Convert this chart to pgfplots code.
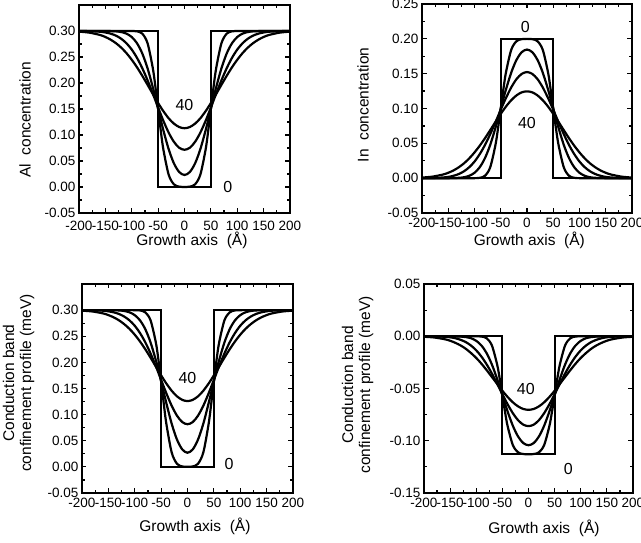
\documentclass[border=0pt]{standalone}
\usepackage{pgfplots}
\usepackage{pgfplotstable}
\pgfplotsset{compat=1.18}
\usepackage{fontspec}
\setmainfont{Liberation Sans}

\pgfplotstableread{
x L10 L20 L30 L40
-200 0.3000 0.3000 0.2999 0.2988
-180 0.3000 0.3000 0.2997 0.2968
-160 0.3000 0.3000 0.2986 0.2923
-150 0.3000 0.2999 0.2972 0.2885
-140 0.3000 0.2998 0.2949 0.2833
-130 0.3000 0.2993 0.2911 0.2766
-120 0.3000 0.2980 0.2851 0.2680
-110 0.3000 0.2949 0.2764 0.2574
-100 0.2999 0.2884 0.2643 0.2447
-90 0.2993 0.2764 0.2483 0.2301
-80 0.2949 0.2567 0.2284 0.2138
-70 0.2764 0.2281 0.2051 0.1965
-60 0.2281 0.1915 0.1794 0.1788
-55 0.1915 0.1711 0.1661 0.1701
-50 0.1500 0.1501 0.1528 0.1615
-45 0.1085 0.1291 0.1397 0.1534
-40 0.0719 0.1088 0.1271 0.1457
-30 0.0236 0.0726 0.1045 0.1321
-20 0.0051 0.0453 0.0868 0.1218
-10 0.0007 0.0287 0.0754 0.1153
0 0.0001 0.0231 0.0716 0.1130
10 0.0007 0.0287 0.0754 0.1153
20 0.0051 0.0453 0.0868 0.1218
30 0.0236 0.0726 0.1045 0.1321
40 0.0719 0.1088 0.1271 0.1457
45 0.1085 0.1291 0.1397 0.1534
50 0.1500 0.1501 0.1528 0.1615
55 0.1915 0.1711 0.1661 0.1701
60 0.2281 0.1915 0.1794 0.1788
70 0.2764 0.2281 0.2051 0.1965
80 0.2949 0.2567 0.2284 0.2138
90 0.2993 0.2764 0.2483 0.2301
100 0.2999 0.2884 0.2643 0.2447
110 0.3000 0.2949 0.2764 0.2574
120 0.3000 0.2980 0.2851 0.2680
130 0.3000 0.2993 0.2911 0.2766
140 0.3000 0.2998 0.2949 0.2833
150 0.3000 0.2999 0.2972 0.2885
160 0.3000 0.3000 0.2986 0.2923
180 0.3000 0.3000 0.2997 0.2968
200 0.3000 0.3000 0.2999 0.2988
}\alTable

\pgfplotstableread{
x L10 L20 L30 L40
-200 0.0000 0.0000 0.0000 0.0008
-180 0.0000 0.0000 0.0002 0.0022
-160 0.0000 0.0000 0.0010 0.0052
-150 0.0000 0.0000 0.0018 0.0077
-140 0.0000 0.0001 0.0034 0.0111
-130 0.0000 0.0005 0.0059 0.0156
-120 0.0000 0.0013 0.0099 0.0213
-110 0.0000 0.0034 0.0157 0.0284
-100 0.0000 0.0077 0.0238 0.0369
-90 0.0005 0.0157 0.0345 0.0466
-80 0.0034 0.0289 0.0477 0.0574
-70 0.0157 0.0479 0.0633 0.0690
-60 0.0480 0.0724 0.0804 0.0808
-55 0.0724 0.0859 0.0893 0.0866
-50 0.1000 0.1000 0.0982 0.0923
-45 0.1276 0.1140 0.1069 0.0977
-40 0.1521 0.1275 0.1152 0.1029
-30 0.1843 0.1516 0.1303 0.1119
-20 0.1966 0.1698 0.1422 0.1188
-10 0.1995 0.1809 0.1497 0.1232
0 0.1999 0.1846 0.1523 0.1246
10 0.1995 0.1809 0.1497 0.1232
20 0.1966 0.1698 0.1422 0.1188
30 0.1843 0.1516 0.1303 0.1119
40 0.1521 0.1275 0.1152 0.1029
45 0.1276 0.1140 0.1069 0.0977
50 0.1000 0.1000 0.0982 0.0923
55 0.0724 0.0859 0.0893 0.0866
60 0.0480 0.0724 0.0804 0.0808
70 0.0157 0.0479 0.0633 0.0690
80 0.0034 0.0289 0.0477 0.0574
90 0.0005 0.0157 0.0345 0.0466
100 0.0000 0.0077 0.0238 0.0369
110 0.0000 0.0034 0.0157 0.0284
120 0.0000 0.0013 0.0099 0.0213
130 0.0000 0.0005 0.0059 0.0156
140 0.0000 0.0001 0.0034 0.0111
150 0.0000 0.0000 0.0018 0.0077
160 0.0000 0.0000 0.0010 0.0052
180 0.0000 0.0000 0.0002 0.0022
200 0.0000 0.0000 0.0000 0.0008
}\inTable

\pgfplotstableread{
x L10 L20 L30 L40
-200 0.3000 0.3000 0.2999 0.2990
-180 0.3000 0.3000 0.2998 0.2974
-160 0.3000 0.3000 0.2989 0.2937
-150 0.3000 0.2999 0.2977 0.2905
-140 0.3000 0.2998 0.2958 0.2862
-130 0.3000 0.2994 0.2927 0.2805
-120 0.3000 0.2984 0.2877 0.2732
-110 0.3000 0.2958 0.2804 0.2641
-100 0.2999 0.2904 0.2701 0.2530
-90 0.2994 0.2804 0.2561 0.2399
-80 0.2958 0.2635 0.2384 0.2251
-70 0.2804 0.2381 0.2170 0.2089
-60 0.2381 0.2042 0.1926 0.1920
-55 0.2042 0.1846 0.1797 0.1836
-50 0.1638 0.1638 0.1665 0.1752
-45 0.1212 0.1426 0.1534 0.1671
-40 0.0819 0.1215 0.1405 0.1594
-30 0.0276 0.0827 0.1170 0.1457
-20 0.0060 0.0524 0.0981 0.1351
-10 0.0008 0.0335 0.0858 0.1283
0 0.0001 0.0270 0.0816 0.1259
10 0.0008 0.0335 0.0858 0.1283
20 0.0060 0.0524 0.0981 0.1351
30 0.0276 0.0827 0.1170 0.1457
40 0.0819 0.1215 0.1405 0.1594
45 0.1212 0.1426 0.1534 0.1671
50 0.1638 0.1638 0.1665 0.1752
55 0.2042 0.1846 0.1797 0.1836
60 0.2381 0.2042 0.1926 0.1920
70 0.2804 0.2381 0.2170 0.2089
80 0.2958 0.2635 0.2384 0.2251
90 0.2994 0.2804 0.2561 0.2399
100 0.2999 0.2904 0.2701 0.2530
110 0.3000 0.2958 0.2804 0.2641
120 0.3000 0.2984 0.2877 0.2732
130 0.3000 0.2994 0.2927 0.2805
140 0.3000 0.2998 0.2958 0.2862
150 0.3000 0.2999 0.2977 0.2905
160 0.3000 0.3000 0.2989 0.2937
180 0.3000 0.3000 0.2998 0.2974
200 0.3000 0.3000 0.2999 0.2990
}\cbTable

\pgfplotstableread{
x L10 L20 L30 L40
-200 0.0000 0.0000 0.0000 -0.0005
-180 0.0000 0.0000 -0.0001 -0.0012
-160 0.0000 0.0000 -0.0005 -0.0029
-150 0.0000 0.0000 -0.0010 -0.0043
-140 0.0000 -0.0001 -0.0019 -0.0063
-130 0.0000 -0.0003 -0.0034 -0.0088
-120 0.0000 -0.0008 -0.0056 -0.0120
-110 0.0000 -0.0019 -0.0089 -0.0161
-100 0.0000 -0.0044 -0.0135 -0.0208
-90 -0.0003 -0.0089 -0.0195 -0.0263
-80 -0.0019 -0.0163 -0.0270 -0.0325
-70 -0.0089 -0.0271 -0.0357 -0.0390
-60 -0.0271 -0.0409 -0.0454 -0.0456
-55 -0.0409 -0.0486 -0.0504 -0.0489
-50 -0.0565 -0.0565 -0.0555 -0.0521
-45 -0.0721 -0.0644 -0.0604 -0.0552
-40 -0.0859 -0.0720 -0.0651 -0.0581
-30 -0.1041 -0.0856 -0.0736 -0.0632
-20 -0.1111 -0.0959 -0.0803 -0.0671
-10 -0.1127 -0.1022 -0.0846 -0.0696
0 -0.1130 -0.1043 -0.0860 -0.0704
10 -0.1127 -0.1022 -0.0846 -0.0696
20 -0.1111 -0.0959 -0.0803 -0.0671
30 -0.1041 -0.0856 -0.0736 -0.0632
40 -0.0859 -0.0720 -0.0651 -0.0581
45 -0.0721 -0.0644 -0.0604 -0.0552
50 -0.0565 -0.0565 -0.0555 -0.0521
55 -0.0409 -0.0486 -0.0504 -0.0489
60 -0.0271 -0.0409 -0.0454 -0.0456
70 -0.0089 -0.0271 -0.0357 -0.0390
80 -0.0019 -0.0163 -0.0270 -0.0325
90 -0.0003 -0.0089 -0.0195 -0.0263
100 0.0000 -0.0044 -0.0135 -0.0208
110 0.0000 -0.0019 -0.0089 -0.0161
120 0.0000 -0.0008 -0.0056 -0.0120
130 0.0000 -0.0003 -0.0034 -0.0088
140 0.0000 -0.0001 -0.0019 -0.0063
150 0.0000 0.0000 -0.0010 -0.0043
160 0.0000 0.0000 -0.0005 -0.0029
180 0.0000 0.0000 -0.0001 -0.0012
200 0.0000 0.0000 0.0000 -0.0005
}\cbvTable

\pgfplotsset{
  panel/.style={
    scale only axis,
    xmin=-200, xmax=200,
    xtick={-200,-150,-100,-50,0,50,100,150,200},
    minor tick num=1,
    tick align=inside,
    axis line style={line width=1.8pt},
    major tick length=4.5pt,
    minor tick length=3pt,
    every tick/.style={line width=1.2pt, black},
    tick label style={font=\fontsize{13.5}{14}\selectfont},
    label style={font=\fontsize{15.5}{17}\selectfont},
    /pgf/number format/assume math mode=true,
    yticklabel style={/pgf/number format/fixed, /pgf/number format/fixed zerofill, /pgf/number format/precision=2},
    xlabel={Growth axis\ \ (Å)},
  },
  sq/.style={black, line width=2pt, no markers, line join=miter},
  prof/.style={black, line width=2.2pt, no markers, smooth},
}
\tikzset{numlab/.style={font=\fontsize{16}{18}\selectfont}}

\begin{document}
\begin{tikzpicture}
\useasboundingbox (0,0) rectangle (641pt,543pt);

% Panel 1: Al
\begin{axis}[panel, at={(79pt,330pt)}, anchor=south west, width=211pt, height=208pt,
  ymin=-0.05, ymax=0.35, ytick={-0.05,0,0.05,0.10,0.15,0.20,0.25,0.30},
  ylabel={Al\ \ concentration},
  ylabel style={at={(axis description cs:-0.256,0.447)}, anchor=center},
  xlabel style={at={(axis description cs:0.535,-0.13)}, anchor=center},
  xticklabel style={yshift=-5pt}]
\addplot[sq] coordinates {(-200,0.3) (-50,0.3) (-50,0) (50,0) (50,0.3) (200,0.3)};
\addplot[prof] table[x=x, y=L10] {\alTable};
\addplot[prof] table[x=x, y=L20] {\alTable};
\addplot[prof] table[x=x, y=L30] {\alTable};
\addplot[prof] table[x=x, y=L40] {\alTable};
\node[numlab] at (axis cs:0,0.158) {40};
\node[numlab] at (axis cs:82,0) {0};
\end{axis}

% Panel 2: In
\begin{axis}[panel, at={(422pt,330pt)}, anchor=south west, width=210pt, height=209pt,
  ymin=-0.05, ymax=0.25, ytick={-0.05,0,0.05,0.10,0.15,0.20,0.25},
  ylabel={In\ \ concentration},
  ylabel style={at={(axis description cs:-0.28,0.517)}, anchor=center},
  xlabel style={at={(axis description cs:0.511,-0.13)}, anchor=center},
  xticklabel style={yshift=-1.5pt}]
\addplot[sq] coordinates {(-200,0) (-50,0) (-50,0.2) (50,0.2) (50,0) (200,0)};
\addplot[prof] table[x=x, y=L10] {\inTable};
\addplot[prof] table[x=x, y=L20] {\inTable};
\addplot[prof] table[x=x, y=L30] {\inTable};
\addplot[prof] table[x=x, y=L40] {\inTable};
\node[numlab] at (axis cs:-3,0.2176) {0};
\node[numlab] at (axis cs:0,0.079) {40};
\end{axis}

% Panel 3: CB (barrier reference)
\begin{axis}[panel, at={(82pt,50pt)}, anchor=south west, width=211pt, height=209pt,
  ymin=-0.05, ymax=0.35, ytick={-0.05,0,0.05,0.10,0.15,0.20,0.25,0.30},
  ylabel={Conduction band\\confinement profile (meV)},
  ylabel style={at={(axis description cs:-0.30,0.526)}, anchor=center, align=center},
  xlabel style={at={(axis description cs:0.535,-0.161)}, anchor=center},
  xticklabel style={yshift=-1.5pt}]
\addplot[sq] coordinates {(-200,0.3) (-50,0.3) (-50,0) (50,0) (50,0.3) (200,0.3)};
\addplot[prof] table[x=x, y=L10] {\cbTable};
\addplot[prof] table[x=x, y=L20] {\cbTable};
\addplot[prof] table[x=x, y=L30] {\cbTable};
\addplot[prof] table[x=x, y=L40] {\cbTable};
\node[numlab] at (axis cs:0,0.1706) {40};
\node[numlab] at (axis cs:79,0.005) {0};
\end{axis}

% Panel 4: CB (well)
\begin{axis}[panel, at={(424pt,50pt)}, anchor=south west, width=209pt, height=209pt,
  ymin=-0.15, ymax=0.05, ytick={-0.15,-0.10,-0.05,0,0.05},
  ylabel={Conduction band\\confinement profile (meV)},
  ylabel style={at={(axis description cs:-0.318,0.517)}, anchor=center, align=center},
  xlabel style={at={(axis description cs:0.574,-0.167)}, anchor=center},
  xticklabel style={yshift=-1.5pt}]
\addplot[sq] coordinates {(-200,0) (-50,0) (-50,-0.113) (50,-0.113) (50,0) (200,0)};
\addplot[prof] table[x=x, y=L10] {\cbvTable};
\addplot[prof] table[x=x, y=L20] {\cbvTable};
\addplot[prof] table[x=x, y=L30] {\cbvTable};
\addplot[prof] table[x=x, y=L40] {\cbvTable};
\node[numlab] at (axis cs:-5,-0.050) {40};
\node[numlab] at (axis cs:76,-0.1275) {0};
\end{axis}
\end{tikzpicture}
\end{document}
